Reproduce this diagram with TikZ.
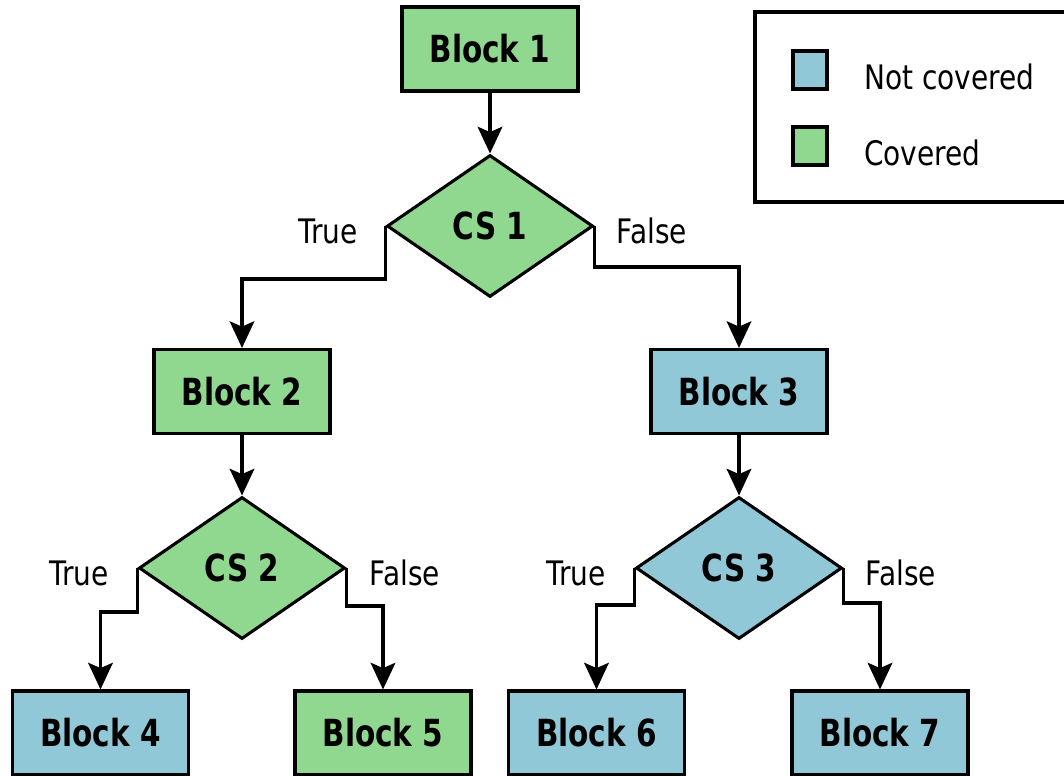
\documentclass[tikz,border=0pt]{standalone}
\usepackage{fontspec}
\setmainfont{DejaVu Sans}[FakeStretch=0.83]
\newfontfamily\boldlbl{DejaVu Sans Bold}[FakeStretch=0.79]
\usetikzlibrary{shapes.geometric,arrows.meta}
\definecolor{cov}{RGB}{144,216,144}
\definecolor{ncov}{RGB}{144,200,216}
\tikzset{
  px/.style={x=0.75pt,y=-0.75pt},
  blockbox/.style={draw=black,line width=2.3pt,rectangle,minimum width=176*0.75pt,minimum height=84*0.75pt,inner sep=0pt,font=\fontsize{28pt}{32pt}\boldlbl},
  condbox/.style={draw=black,line width=2.3pt,diamond,minimum width=206*0.75pt,minimum height=142*0.75pt,inner sep=0pt,font=\fontsize{28pt}{32pt}\boldlbl},
  lbl/.style={inner sep=0pt,font=\fontsize{25.3pt}{29pt}\selectfont},
  arr/.style={line width=2.3pt,-{Stealth[length=20pt,width=18.5pt,inset=4pt]}},
  keybox/.style={draw=black,line width=2.6pt,minimum width=34*0.75pt,minimum height=38*0.75pt,inner sep=0pt}
}
\begin{document}
\begin{tikzpicture}[px]
\useasboundingbox (0,0) rectangle (1064,775);
% legend
\node[draw=black,line width=2.3pt,minimum width=330*0.75pt,minimum height=190*0.75pt,inner sep=0pt] (legend) at (920,107) {};
\node[keybox,fill=ncov] (k1) at (810,70) {};
\node[keybox,fill=cov] (k2) at (810,146) {};
\node[lbl,anchor=west] (t1) at (864,77) {Not covered};
\node[lbl,anchor=west] (t2) at (864,153) {Covered};
% blocks
\node[blockbox,fill=cov] (b1) at (490,49) {Block 1};
\node[condbox,fill=cov] (cs1) at (490,226) {CS 1};
\node[blockbox,fill=cov] (b2) at (242,391.5) {Block 2};
\node[blockbox,fill=ncov] (b3) at (739,391.5) {Block 3};
\node[condbox,fill=cov] (cs2) at (242,568) {CS 2};
\node[condbox,fill=ncov] (cs3) at (739,568) {CS 3};
\node[blockbox,fill=ncov] (b4) at (100.5,733) {Block 4};
\node[blockbox,fill=cov] (b5) at (383,733) {Block 5};
\node[blockbox,fill=ncov] (b6) at (596.5,733) {Block 6};
\node[blockbox,fill=ncov] (b7) at (880,733) {Block 7};
% labels
\node[lbl] (l1) at (328,231) {True};
\node[lbl] (l2) at (652,231) {False};
\node[lbl] (l3) at (79,573) {True};
\node[lbl] (l4) at (405,573) {False};
\node[lbl] (l5) at (576,573) {True};
\node[lbl] (l6) at (901,573) {False};
% connectors
\draw[arr] (b1.south) -- (cs1.north);
\draw[arr] (cs1.west) -- ++(0,53) -| (b2.north);
\draw[arr] (cs1.east) -- ++(0,41) -| (b3.north);
\draw[arr] (b2.south) -- (cs2.north);
\draw[arr] (b3.south) -- (cs3.north);
\draw[arr] (cs2.west) -- ++(0,44) -| (b4.north);
\draw[arr] (cs2.east) -- ++(0,38) -| (b5.north);
\draw[arr] (cs3.west) -- ++(0,37) -| (b6.north);
\draw[arr] (cs3.east) -- ++(0,35) -| (b7.north);
\end{tikzpicture}
\end{document}
